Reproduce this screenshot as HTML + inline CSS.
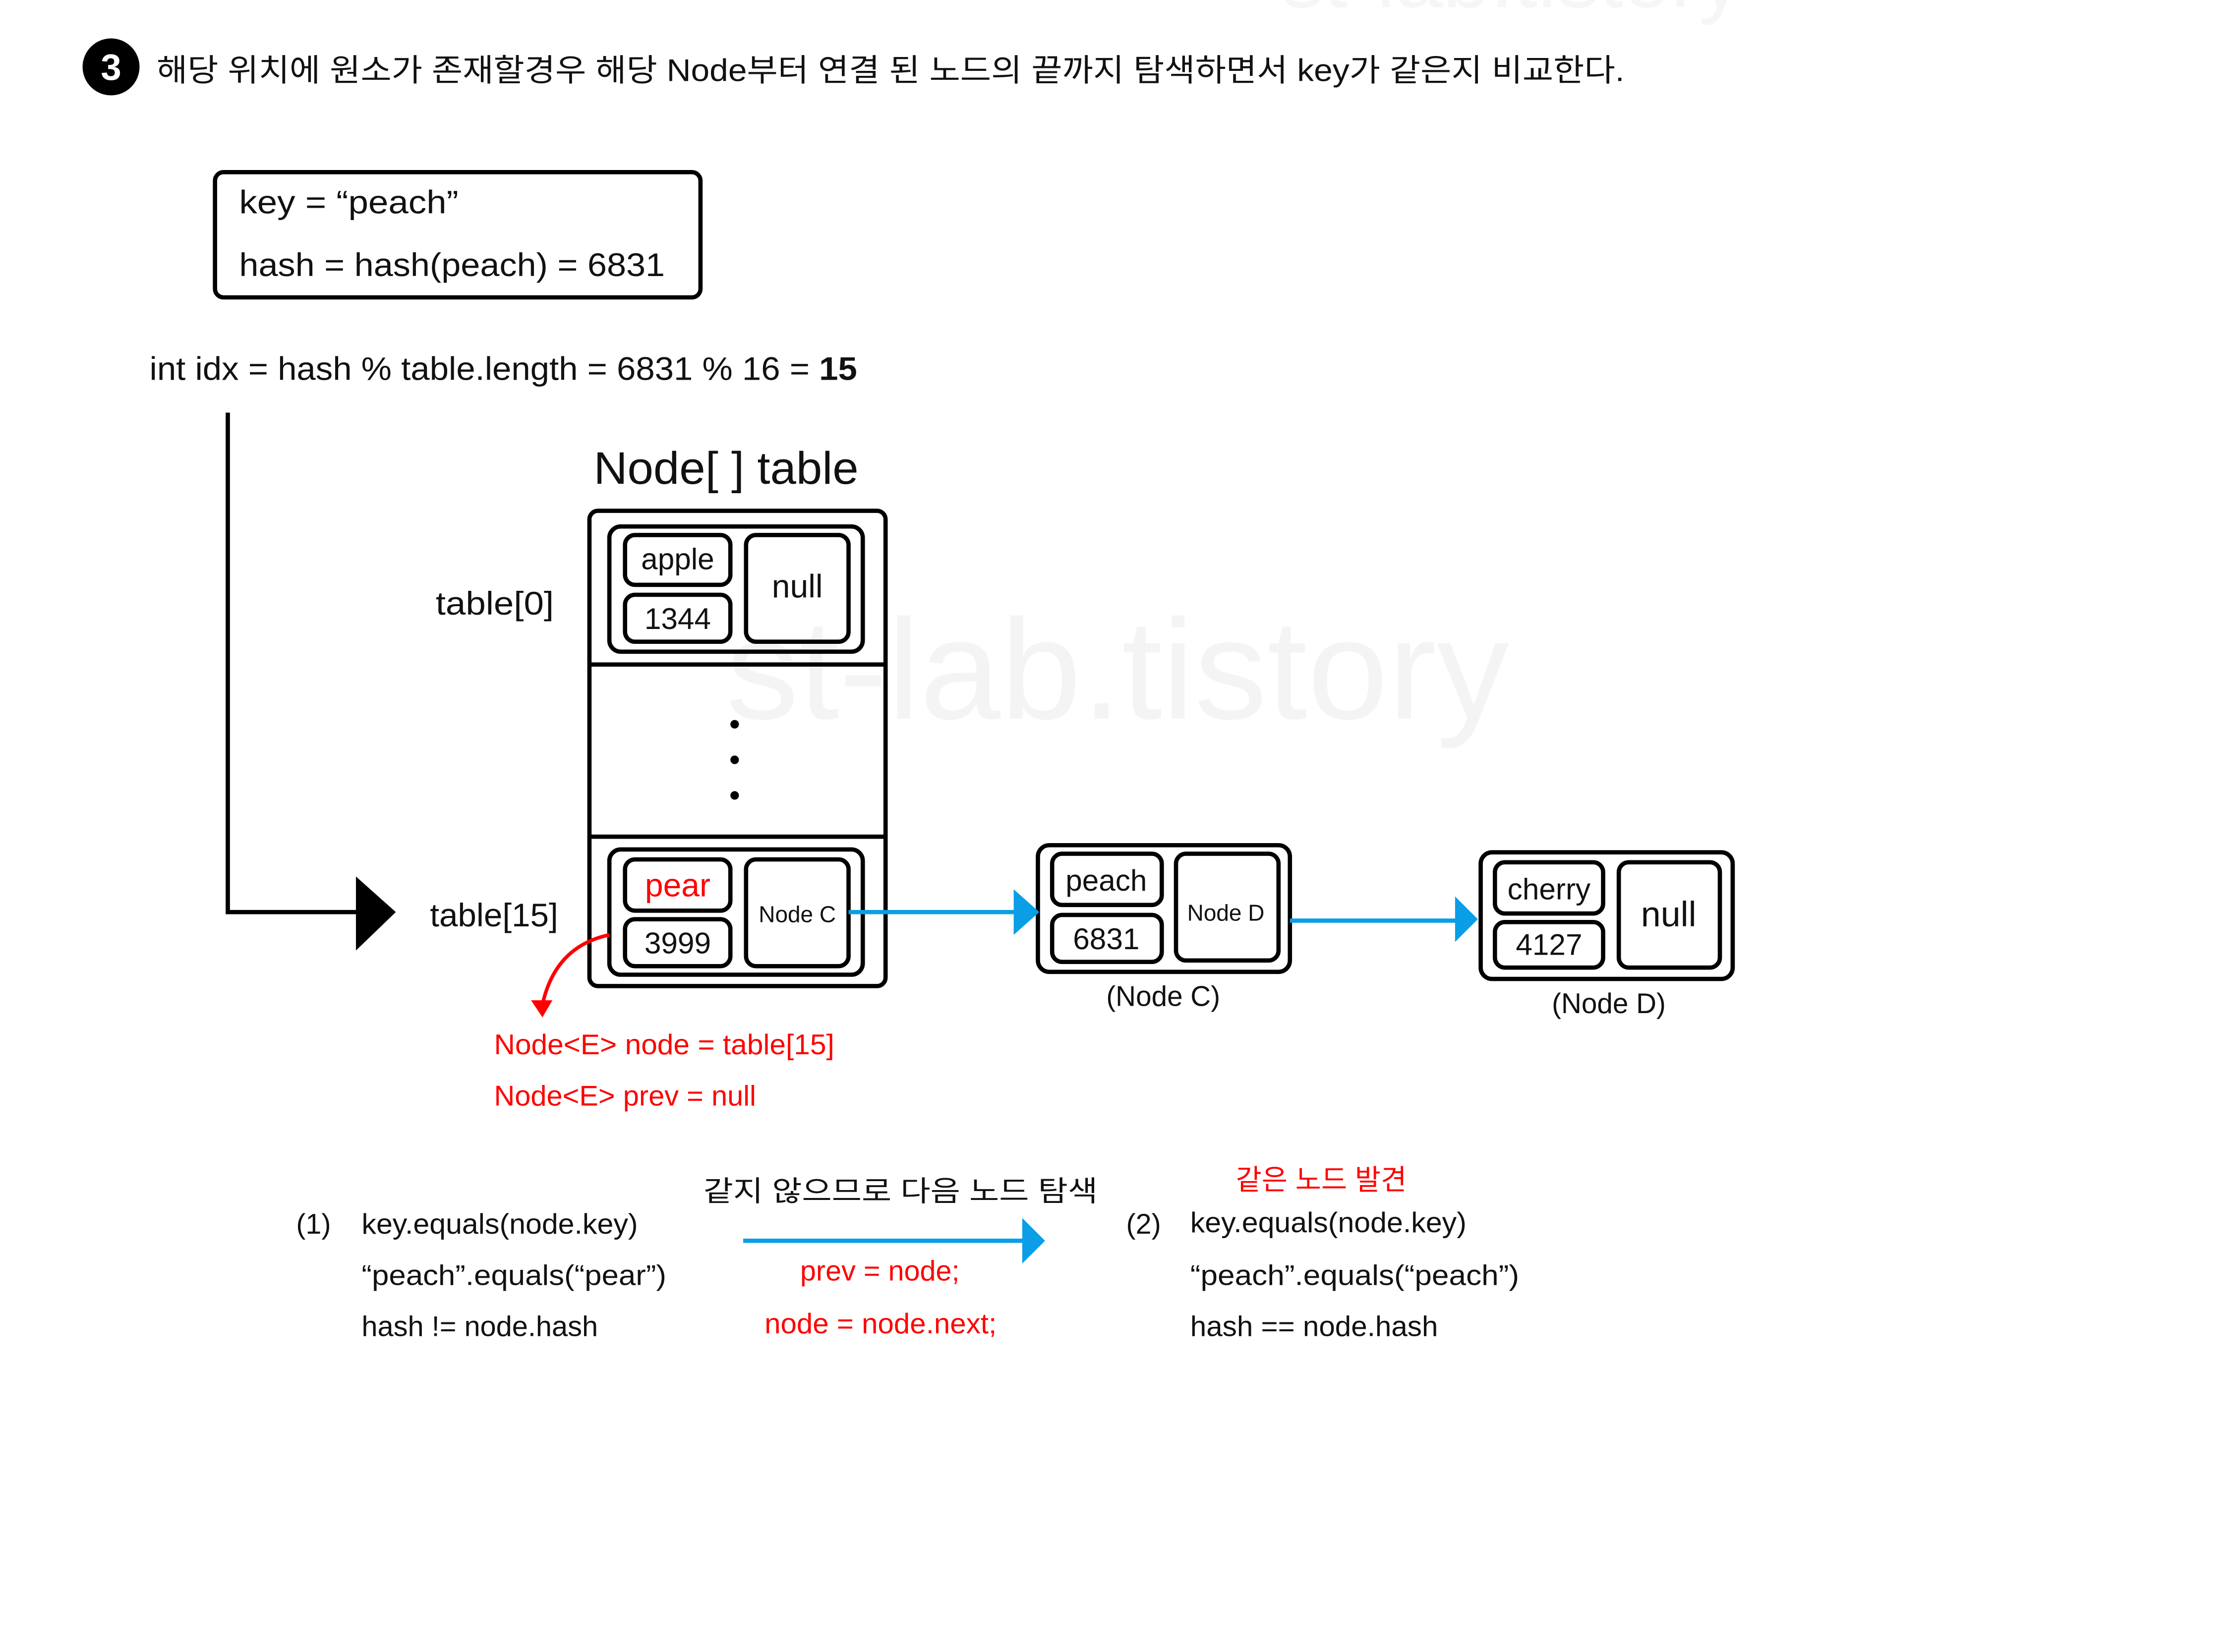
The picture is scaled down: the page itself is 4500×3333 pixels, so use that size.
<!DOCTYPE html>
<html><head><meta charset="utf-8"><style>
html,body{margin:0;padding:0;background:#fff;width:4500px;height:3333px;overflow:hidden}
svg{display:block}
text{font-family:"Liberation Sans","Noto Sans CJK KR",sans-serif;fill:#111}
.r{fill:#f00}
</style></head><body>
<svg width="4500" height="3333" viewBox="0 0 1567 1161" preserveAspectRatio="none" xmlns="http://www.w3.org/2000/svg">
<text x="510" y="505" font-size="100" style="fill:#f4f4f4" textLength="550" lengthAdjust="spacingAndGlyphs">st-lab.tistory</text>
<text x="900" y="5" font-size="60" style="fill:#f6f6f6">st-lab.tistory</text>
<circle cx="78" cy="47" r="20" fill="#000"/>
<text x="78" y="56" font-size="26" font-weight="bold" text-anchor="middle" style="fill:#fff">3</text>
<text x="110" y="57" font-size="22" textLength="1031" lengthAdjust="spacingAndGlyphs">해당 위치에 원소가 존재할경우 해당 Node부터 연결 된 노드의 끝까지 탐색하면서 key가 같은지 비교한다.</text>
<rect x="151" y="121" width="341" height="88" rx="6" fill="none" stroke="#000" stroke-width="3"/>
<text x="168" y="150" font-size="23" textLength="154" lengthAdjust="spacingAndGlyphs">key = “peach”</text>
<text x="168" y="194" font-size="23" textLength="299" lengthAdjust="spacingAndGlyphs">hash = hash(peach) = 6831</text>
<text x="105" y="267" font-size="23" textLength="497" lengthAdjust="spacingAndGlyphs">int idx = hash % table.length = 6831 % 16 = <tspan font-weight="bold">15</tspan></text>
<polyline points="160,290 160,641 255,641" fill="none" stroke="#000" stroke-width="3"/>
<polygon points="250,616 278,641 250,668" fill="#000"/>
<text x="417" y="340" font-size="32" textLength="186" lengthAdjust="spacingAndGlyphs">Node[ ] table</text>
<rect x="414" y="359" width="208" height="334" rx="6" fill="none" stroke="#000" stroke-width="3"/>
<line x1="414" y1="467" x2="622" y2="467" stroke="#000" stroke-width="3"/>
<line x1="414" y1="588" x2="622" y2="588" stroke="#000" stroke-width="3"/>
<text x="306" y="432" font-size="23" textLength="83" lengthAdjust="spacingAndGlyphs">table[0]</text>
<text x="302" y="651" font-size="23" textLength="90" lengthAdjust="spacingAndGlyphs">table[15]</text>
<g fill="none" stroke="#000" stroke-width="3">
<rect x="428" y="370" width="178" height="88" rx="8"/>
<rect x="439" y="376" width="74" height="35" rx="7"/>
<rect x="439" y="418" width="74" height="33" rx="7"/>
<rect x="524" y="376" width="72" height="75" rx="7"/>
<rect x="428" y="597" width="178" height="88" rx="8"/>
<rect x="439" y="604" width="74" height="36" rx="7"/>
<rect x="439" y="646" width="74" height="33" rx="7"/>
<rect x="524" y="604" width="72" height="75" rx="7"/>
<rect x="729" y="594" width="177" height="89" rx="8"/>
<rect x="739" y="600" width="77" height="36" rx="7"/>
<rect x="739" y="643" width="77" height="33" rx="7"/>
<rect x="826" y="600" width="72" height="75" rx="7"/>
<rect x="1040" y="599" width="177" height="89" rx="8"/>
<rect x="1050" y="606" width="76" height="36" rx="7"/>
<rect x="1050" y="648" width="76" height="32" rx="7"/>
<rect x="1137" y="606" width="71" height="74" rx="7"/>
</g>
<g font-size="21" text-anchor="middle">
<text x="476" y="400">apple</text>
<text x="476" y="442">1344</text>
<text x="560" y="420" font-size="23">null</text>
<text x="476" y="630" class="r" font-size="23">pear</text>
<text x="476" y="670">3999</text>
<text x="560" y="648" font-size="16">Node C</text>
<text x="777" y="626">peach</text>
<text x="777" y="667">6831</text>
<text x="861" y="647" font-size="16">Node D</text>
<text x="1088" y="632">cherry</text>
<text x="1088" y="671">4127</text>
<text x="1172" y="651" font-size="25">null</text>
</g>
<text x="777" y="707" font-size="20" textLength="80" lengthAdjust="spacingAndGlyphs">(Node C)</text>
<text x="1090" y="712" font-size="20" textLength="80" lengthAdjust="spacingAndGlyphs">(Node D)</text>
<circle cx="516" cy="509" r="3" fill="#000"/>
<circle cx="516" cy="534" r="3" fill="#000"/>
<circle cx="516" cy="559" r="3" fill="#000"/>
<g stroke="#0a9ee6" stroke-width="3"><line x1="596" y1="641" x2="715" y2="641"/><line x1="906" y1="647" x2="1025" y2="647"/><line x1="522" y1="872" x2="720" y2="872"/></g>
<g fill="#0a9ee6"><polygon points="712,625 730,641 712,657"/><polygon points="1022,630 1038,646 1022,662"/><polygon points="718,856 734,872 718,888"/></g>
<path d="M428,657 Q390,665 381,706" fill="none" stroke="#f00" stroke-width="2.5"/>
<polygon points="373,703 381,715 388,703" fill="#f00"/>
<g font-size="20">
<text x="347" y="741" class="r" textLength="239" lengthAdjust="spacingAndGlyphs">Node&lt;E&gt; node = table[15]</text>
<text x="347" y="777" class="r" textLength="184" lengthAdjust="spacingAndGlyphs">Node&lt;E&gt; prev = null</text>
<text x="208" y="867">(1)</text>
<text x="254" y="867" textLength="194" lengthAdjust="spacingAndGlyphs">key.equals(node.key)</text>
<text x="254" y="903" textLength="214" lengthAdjust="spacingAndGlyphs">“peach”.equals(“pear”)</text>
<text x="254" y="939" textLength="166" lengthAdjust="spacingAndGlyphs">hash != node.hash</text>
<text x="494" y="844" textLength="277" lengthAdjust="spacingAndGlyphs">같지 않으므로 다음 노드 탐색</text>
<text x="562" y="900" class="r" textLength="112" lengthAdjust="spacingAndGlyphs">prev = node;</text>
<text x="537" y="937" class="r" textLength="163" lengthAdjust="spacingAndGlyphs">node = node.next;</text>
<text x="868" y="836" class="r" textLength="120" lengthAdjust="spacingAndGlyphs">같은 노드 발견</text>
<text x="791" y="867">(2)</text>
<text x="836" y="866" textLength="194" lengthAdjust="spacingAndGlyphs">key.equals(node.key)</text>
<text x="836" y="903" textLength="231" lengthAdjust="spacingAndGlyphs">“peach”.equals(“peach”)</text>
<text x="836" y="939" textLength="174" lengthAdjust="spacingAndGlyphs">hash == node.hash</text>
</g>
</svg>
</body></html>
